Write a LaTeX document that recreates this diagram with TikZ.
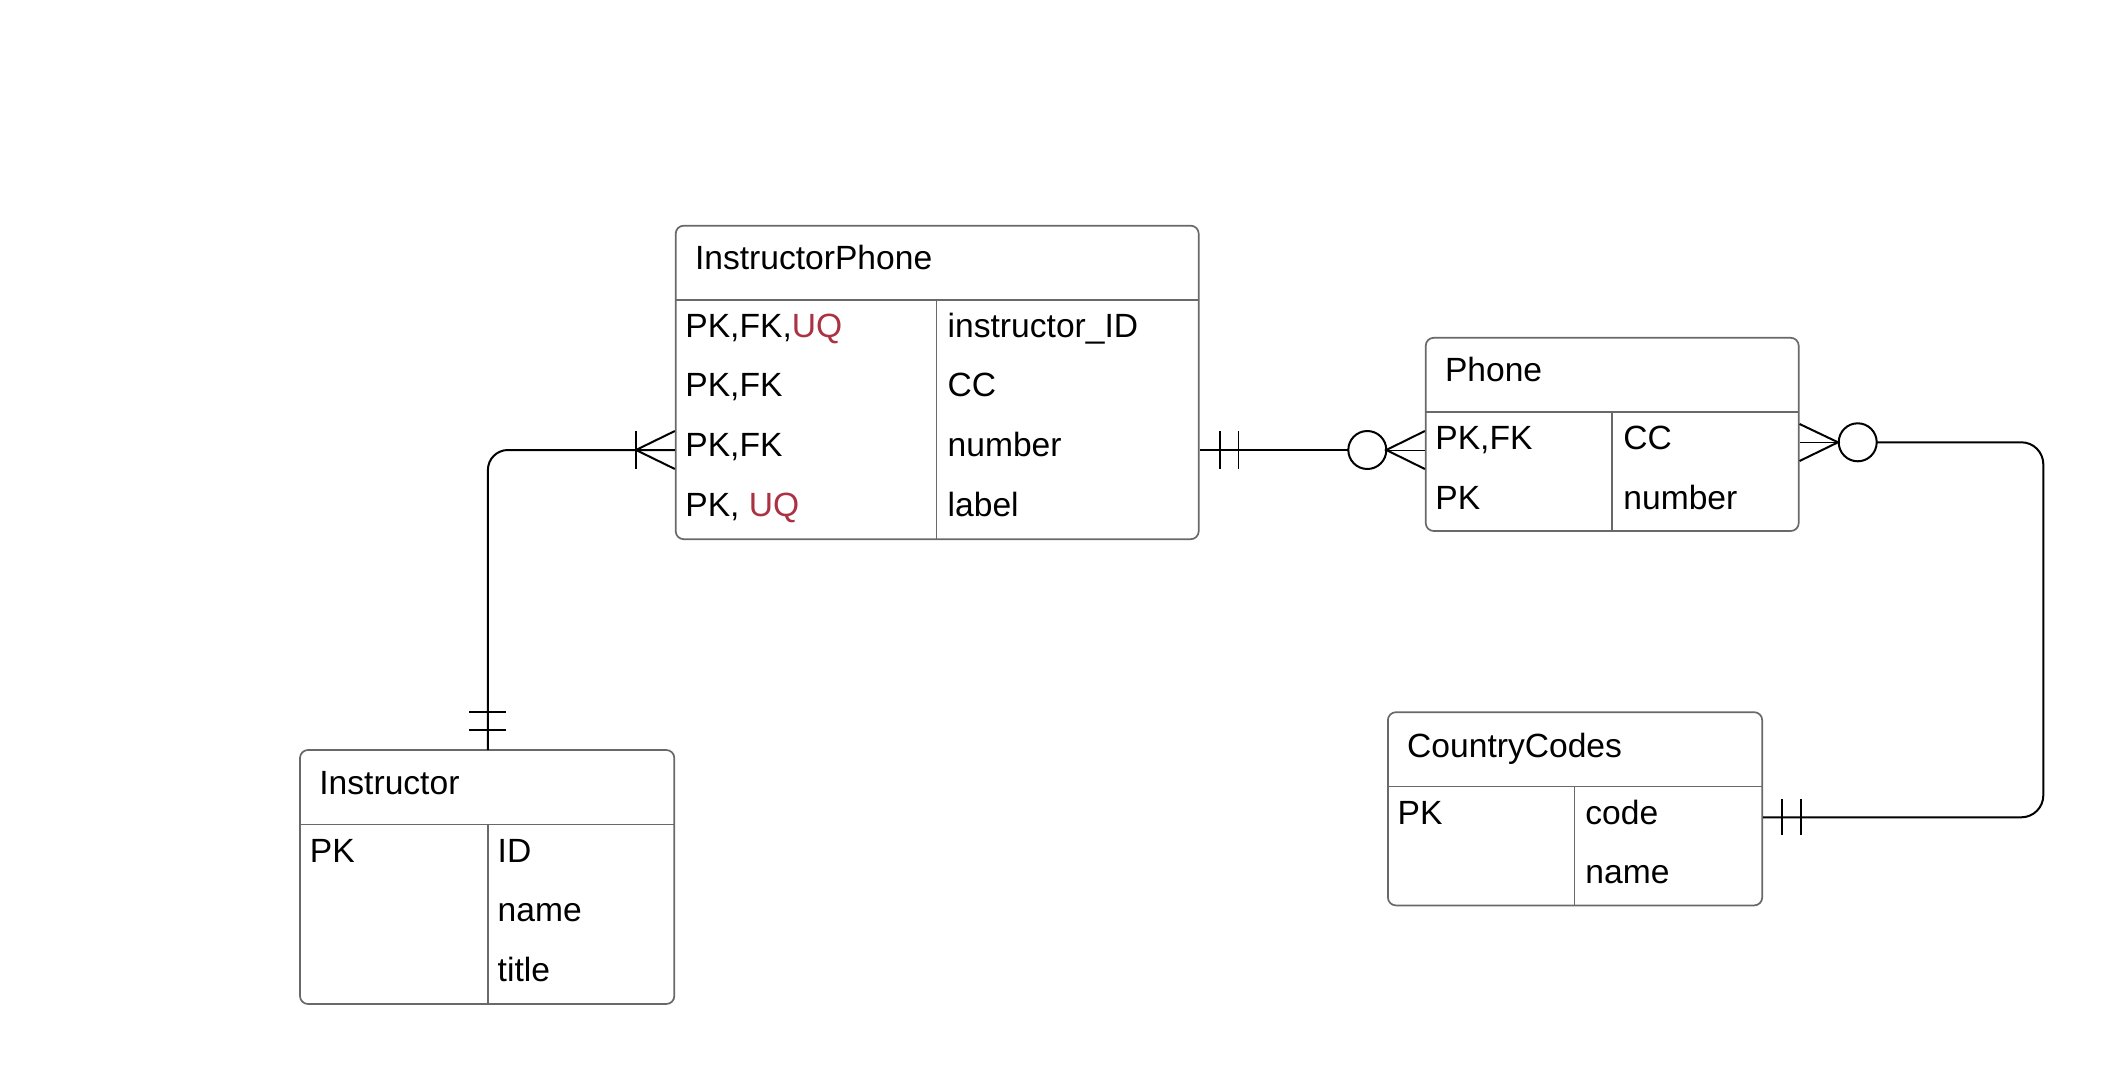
\documentclass[tikz,border=0pt]{standalone}
\usepackage{fontspec}
\setmainfont{Liberation Sans}
\usetikzlibrary{fit}
\definecolor{uq}{RGB}{170,50,66}
\definecolor{bord}{RGB}{105,105,105}
\tikzset{
  entity/.style={draw=bord, line width=0.85pt, rounded corners=4pt, inner sep=0pt},
  inner/.style={draw=bord, line width=0.6pt},
  txt/.style={anchor=base west, inner sep=0pt, font=\fontsize{16.8pt}{20pt}\selectfont},
  conn/.style={draw=black, line width=1pt},
  thin/.style={draw=black, line width=0.5pt}
}
\begin{document}
\begin{tikzpicture}[x=0.5pt,y=-0.5pt]
\useasboundingbox[fill=white] (0,0) rectangle (2119,1080);

% ---------- InstructorPhone ----------
\coordinate (ipA) at (675.7,225.7);
\coordinate (ipB) at (1198.7,539.2);
\node[entity, fit=(ipA)(ipB)] (ip) {};
\draw[inner] (675.7,300) -- (1198.7,300);
\draw[inner] (936.5,300) -- (936.5,539.2);
\node[txt] (ipT) at (694.6,270) {InstructorPhone};
\node[txt] (ip1a) at (685,337.7) {PK,FK,\textcolor{uq}{UQ}};
\node[txt] (ip1b) at (947.3,337.7) {instructor\_ID};
\node[txt] (ip2a) at (685,397) {PK,FK};
\node[txt] (ip2b) at (947.3,397) {CC};
\node[txt] (ip3a) at (685,456.6) {PK,FK};
\node[txt] (ip3b) at (947.3,456.6) {number};
\node[txt] (ip4a) at (685,516) {PK, \textcolor{uq}{UQ}};
\node[txt] (ip4b) at (947.3,516) {label};

% ---------- Phone ----------
\coordinate (phA) at (1425.7,337.8);
\coordinate (phB) at (1798.7,531);
\node[entity, fit=(phA)(phB)] (ph) {};
\draw[inner] (1425.7,412) -- (1798.7,412);
\draw[inner] (1612,412) -- (1612,531);
\node[txt] (phT) at (1444.6,382) {Phone};
\node[txt] (ph1a) at (1435,449.9) {PK,FK};
\node[txt] (ph1b) at (1623,449.9) {CC};
\node[txt] (ph2a) at (1435,509.3) {PK};
\node[txt] (ph2b) at (1623,509.3) {number};

% ---------- Instructor ----------
\coordinate (inA) at (300,750);
\coordinate (inB) at (674.3,1004);
\node[entity, fit=(inA)(inB)] (in) {};
\draw[inner] (300,824.3) -- (674.3,824.3);
\draw[inner] (487.9,824.3) -- (487.9,1004);
\node[txt] (inT) at (319,794.5) {Instructor};
\node[txt] (in1a) at (309.5,862) {PK};
\node[txt] (in1b) at (497.3,862) {ID};
\node[txt] (in2b) at (497.3,921.5) {name};
\node[txt] (in3b) at (497.3,981) {title};

% ---------- CountryCodes ----------
\coordinate (ccA) at (1387.9,712.2);
\coordinate (ccB) at (1762.2,905.4);
\node[entity, fit=(ccA)(ccB)] (cc) {};
\draw[inner] (1387.9,786.5) -- (1762.2,786.5);
\draw[inner] (1574.4,786.5) -- (1574.4,905.4);
\node[txt] (ccT) at (1406.8,757) {CountryCodes};
\node[txt] (cc1a) at (1397.3,824.2) {PK};
\node[txt] (cc1b) at (1585,824.2) {code};
\node[txt] (cc2b) at (1585,883.7) {name};

% ---------- Connector: Instructor -> InstructorPhone ----------
\coordinate (yA) at (0,450);
\coordinate (y431) at (0,431);
\coordinate (y469) at (0,469);
\coordinate (ipL) at (ip.west |- yA);
\coordinate (inTop) at (487.9,750);
\draw[conn, rounded corners=10pt] (inTop) |- (ipL);
\draw[conn] (469,711.7) -- (506,711.7);
\draw[conn] (469,730) -- (506,730);
\draw[conn] (636,431) -- (636,469);
\draw[conn] (ipL |- y431) -- (636,450) -- (ipL |- y469);

% ---------- Connector: InstructorPhone -> Phone ----------
\coordinate (ipR) at (ip.east |- yA);
\coordinate (phL) at (ph.west |- yA);
\draw[conn] (ipR) -- (1348,450);
\draw[conn] (1220,431) -- (1220,469);
\draw[thin, line width=0.7pt] (1238.3,431) -- (1238.3,469);
\draw[conn] (1367.3,450) circle[radius=9.5pt];
\draw[conn] (phL |- y431) -- (1386.3,450) -- (phL |- y469);
\draw[thin] (1386.3,450) -- (phL);

% ---------- Connector: Phone -> CountryCodes ----------
\coordinate (yB) at (0,442.3);
\coordinate (yC) at (0,817.3);
\coordinate (y424) at (0,424);
\coordinate (y461) at (0,461);
\coordinate (phR) at (ph.east |- yB);
\coordinate (ccR) at (cc.east |- yC);
\draw[conn] (phR |- y424) -- (1838,442.3) -- (phR |- y461);
\draw[thin] (phR) -- (1838,442.3);
\draw[conn] (1857.7,442.3) circle[radius=9.5pt];
\coordinate (cR) at (1876.7,442.3);
\draw[conn, rounded corners=11pt] (cR) -- (2043.3,442.3) -- (2043.3,817.3) -- (ccR);
\draw[conn] (1782.3,799.3) -- (1782.3,835.3);
\draw[conn] (1801,799.3) -- (1801,835.3);
\end{tikzpicture}
\end{document}
